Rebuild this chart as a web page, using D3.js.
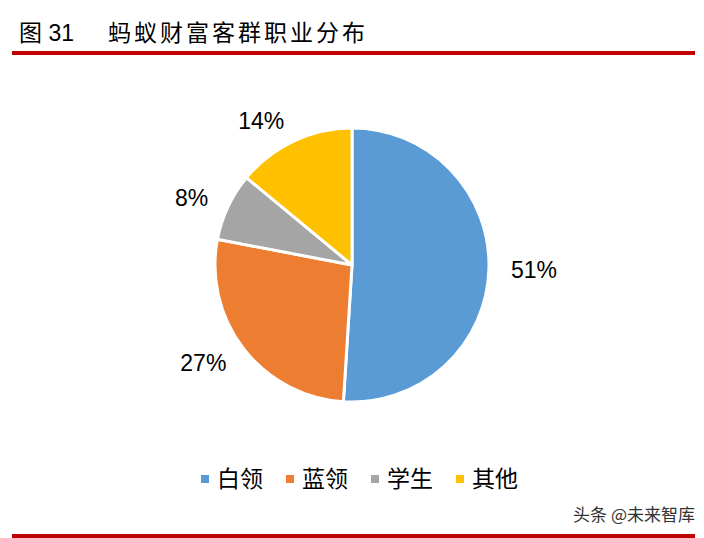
<!DOCTYPE html>
<html>
<head>
<meta charset="utf-8">
<script src="https://cdn.jsdelivr.net/npm/d3@7"></script>
<style>
  body { margin: 0; background: #fff; }
  svg { display: block; }
</style>
</head>
<body>
<svg id="chart"></svg>
<script>
const categories = ["白领", "蓝领", "学生", "其他"]
const shares = [51, 27, 8, 14]
const colors = ["#5b9bd5", "#ed7d31", "#a5a5a5", "#ffc000"]

const width = 704, height = 538
const cx = 352, cy = 265, radius = 137, labelRadius = 159

const svg = d3.select("#chart")
  .attr("width", width)
  .attr("height", height)
  .style("font-family", "'Liberation Sans', Arial, 'Noto Sans CJK SC', sans-serif")

// title
svg.append("text")
  .attr("x", 19).attr("y", 41)
  .attr("font-size", 23)
  .attr("fill", "#000")
  .text("图 31")
svg.append("text")
  .attr("x", 108).attr("y", 41)
  .attr("font-size", 23)
  .attr("letter-spacing", 3)
  .attr("font-family", "'Noto Sans CJK SC', sans-serif")
  .attr("fill", "#000")
  .text("蚂蚁财富客群职业分布")

svg.append("rect")
  .attr("x", 12).attr("y", 51)
  .attr("width", 683).attr("height", 4)
  .attr("fill", "#c00000")
svg.append("rect")
  .attr("x", 12).attr("y", 534)
  .attr("width", 683).attr("height", 4)
  .attr("fill", "#c00000")

// pie
const pie = d3.pie().sort(null).value(d => d)
const arc = d3.arc().innerRadius(0).outerRadius(radius)
const color = d3.scaleOrdinal().domain(categories).range(colors)

const arcs = pie(shares)
const g = svg.append("g").attr("transform", `translate(${cx},${cy})`)

g.selectAll("path")
  .data(arcs)
  .join("path")
  .attr("d", arc)
  .attr("fill", (d, i) => color(categories[i]))
  .attr("stroke", "#fff")
  .attr("stroke-width", 3)
  .attr("stroke-linejoin", "round")

// labels sit outside the slice, anchored toward the pie
const midAngle = d => (d.startAngle + d.endAngle) / 2
g.selectAll("text.label")
  .data(arcs)
  .join("text")
  .attr("class", "label")
  .attr("x", d => Math.sin(midAngle(d)) * labelRadius)
  .attr("y", d => -Math.cos(midAngle(d)) * labelRadius)
  .attr("text-anchor", d => Math.sin(midAngle(d)) >= 0 ? "start" : "end")
  .attr("dy", "0.36em")
  .attr("font-size", 23)
  .attr("fill", "#000")
  .text(d => d.data + "%")

// legend
const legend = svg.append("g")
  .selectAll("g")
  .data(categories)
  .join("g")
  .attr("transform", (d, i) => `translate(${201 + i * 85},479)`)
legend.append("rect")
  .attr("x", 0).attr("y", -4)
  .attr("width", 8).attr("height", 8)
  .attr("fill", d => color(d))
legend.append("text")
  .attr("x", 16).attr("y", 0)
  .attr("dy", "0.36em")
  .attr("font-size", 23)
  .attr("font-family", "'Noto Sans CJK SC', sans-serif")
  .attr("fill", "#000")
  .text(d => d)

// watermark
svg.append("text")
  .attr("x", 695).attr("y", 521)
  .attr("text-anchor", "end")
  .attr("font-size", 17)
  .attr("font-family", "'Noto Sans CJK SC', sans-serif")
  .attr("fill", "#333")
  .text("头条 @未来智库")
</script>
</body>
</html>
